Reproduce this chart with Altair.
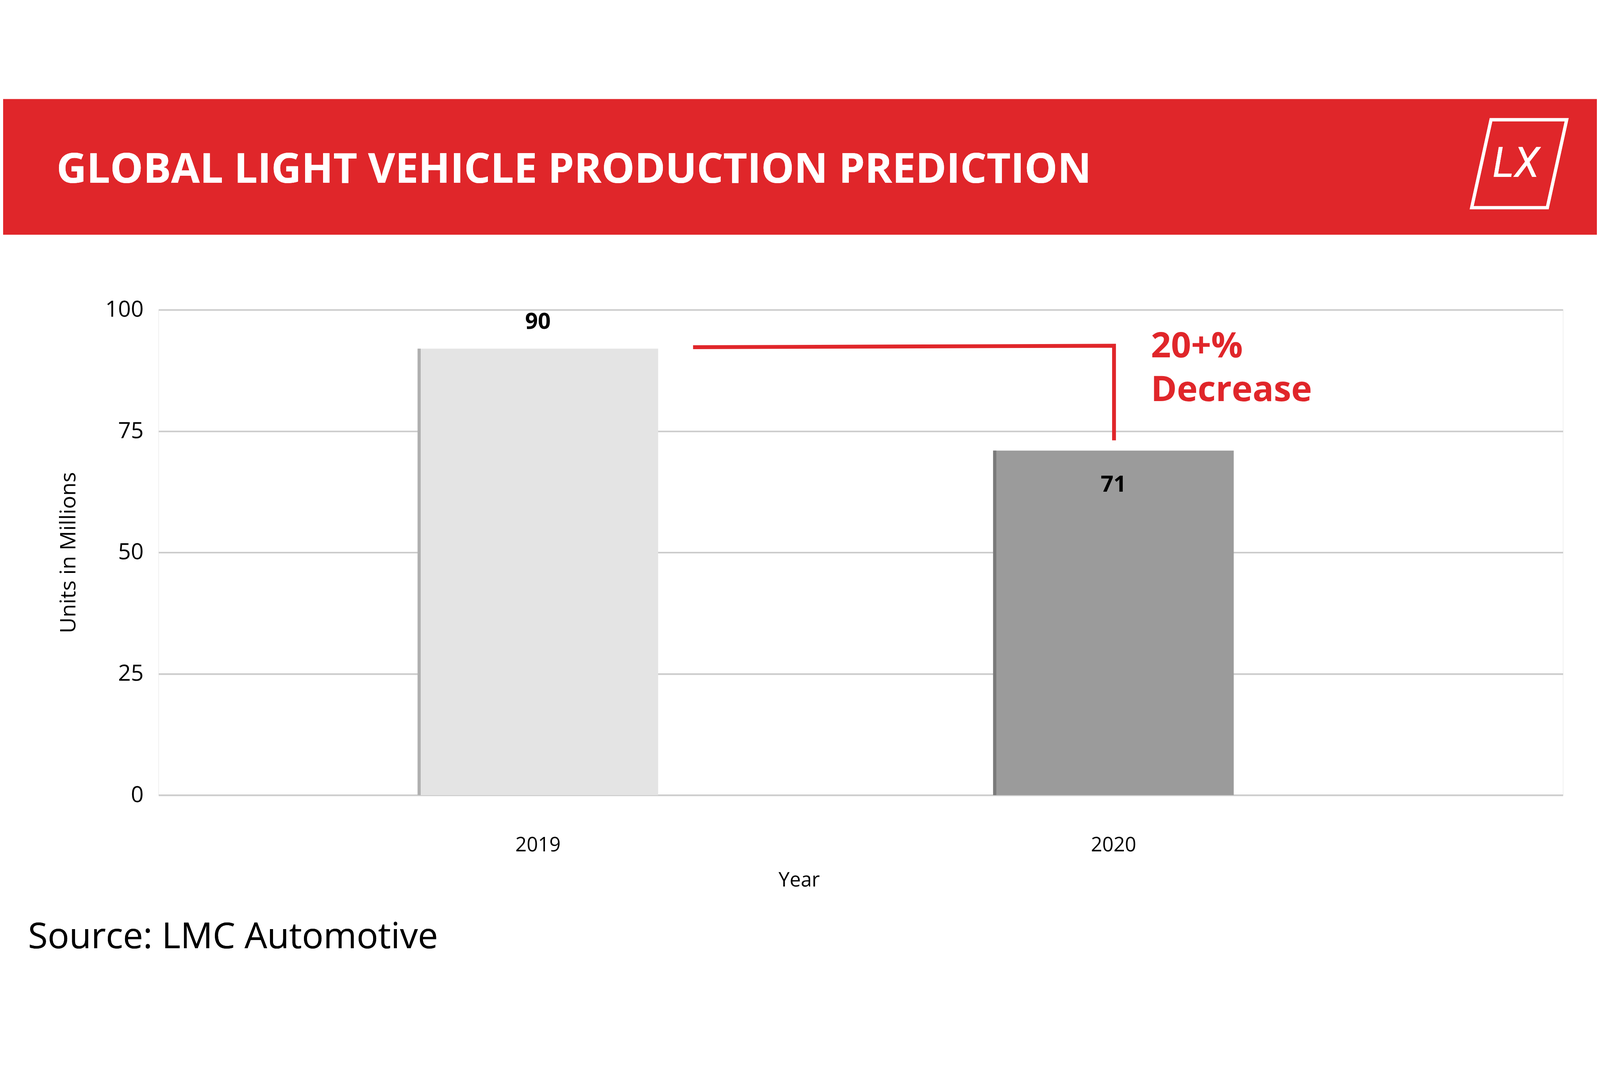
import pandas as pd
import altair as alt

years = [2019, 2020]
bar_values = [92, 71]
label_text = ["90", "71"]
bar_colors = ["#e4e4e4", "#9b9b9b"]
edge_colors = ["#b0b0b0", "#7a7a7a"]

RED = "#e0262a"
FONT = "Open Sans"
W, H = 4392, 1518
half = 0.209

df = pd.DataFrame({"year": years, "value": bar_values, "label": label_text,
                   "color": bar_colors, "edge": edge_colors})
df["x0"] = df["year"] - half
df["x1"] = df["year"] + half
df["e1"] = df["x0"] + 0.0055

xs = alt.Scale(domain=[2018.341, 2020.781], nice=False, zero=False)
ys = alt.Scale(domain=[0, 100], nice=False)

base = alt.Chart(df)

bars = base.mark_rect().encode(
    x=alt.X("x0:Q", scale=xs, title="Year",
            axis=alt.Axis(values=years, format="d", grid=False, domain=False, ticks=False,
                          labelFontSize=62, labelPadding=127, titleFontSize=62,
                          titleFontWeight="normal", titlePadding=48, titleX=2003,
                          labelColor="#000", titleColor="#000")),
    x2="x1:Q",
    y=alt.Y("value:Q", scale=ys, title="Units in Millions",
            axis=alt.Axis(values=[0, 25, 50, 75, 100], domain=False, ticks=False,
                          gridColor="#cccccc", gridWidth=5, labelFontSize=70,
                          labelPadding=47, titleFontSize=68, titleFontWeight="normal",
                          titlePadding=80, labelColor="#000", titleColor="#000")),
    y2=alt.datum(0),
    color=alt.Color("color:N", scale=None),
)
edges = base.mark_rect().encode(
    x=alt.X("x0:Q", scale=xs), x2="e1:Q", y=alt.Y("value:Q", scale=ys), y2=alt.datum(0),
    color=alt.Color("edge:N", scale=None),
)
lab_top = alt.Chart(df[df.year == 2019]).mark_text(
    fontSize=70, fontWeight="bold", font=FONT, dy=-83, color="#000"
).encode(x=alt.X("year:Q", scale=xs), y=alt.Y("value:Q", scale=ys), text="label:N")
lab_in = alt.Chart(df[df.year == 2020]).mark_text(
    fontSize=70, fontWeight="bold", font=FONT, dy=108, color="#000"
).encode(x=alt.X("year:Q", scale=xs), y=alt.Y("value:Q", scale=ys), text="label:N")

ann = pd.DataFrame({"x": [2019.273, 2020.001, 2020.001], "y": [92.3, 92.6, 73.5], "o": [0, 1, 2]})
arrow = alt.Chart(ann).mark_line(color=RED, strokeWidth=12, strokeCap="square").encode(
    x=alt.X("x:Q", scale=xs), y=alt.Y("y:Q", scale=ys), order="o:O")

ann_txt = pd.DataFrame({"x": [2020.065, 2020.065], "y": [92.4, 83.4], "t": ["20+%", "Decrease"]})
ann_label = alt.Chart(ann_txt).mark_text(
    align="left", baseline="middle", fontSize=110, fontWeight="bold", font=FONT, color=RED
).encode(x=alt.X("x:Q", scale=xs), y=alt.Y("y:Q", scale=ys), text="t:N")

header = alt.Chart(df).mark_rect(color=RED).encode(
    x=alt.value(-486), x2=alt.value(W + 106), y=alt.value(-659), y2=alt.value(-235))
title = alt.Chart(df).mark_text(
    align="left", baseline="middle", fontSize=130, fontWeight="bold", font=FONT, color="white"
).encode(x=alt.value(-319), y=alt.value(-437), text=alt.value("GLOBAL LIGHT VEHICLE PRODUCTION PREDICTION"))
logo_box = alt.Chart(df).mark_point(
    shape="M -0.64 -1 L 1.08 -1 L 0.64 1 L -1.08 1 Z", size=75625, filled=False,
    stroke="white", strokeWidth=10, opacity=1
).encode(x=alt.value(4255), y=alt.value(-457))
logo_txt = alt.Chart(df).mark_text(
    fontSize=130, fontStyle="italic", font="Roboto", color="white", baseline="middle"
).encode(x=alt.value(4245), y=alt.value(-455), text=alt.value("LX"))
source = alt.Chart(df).mark_text(
    align="left", baseline="middle", fontSize=112, font=FONT, color="#000"
).encode(x=alt.value(-408), y=alt.value(1963), text=alt.value("Source: LMC Automotive"))

chart = alt.layer(
    bars, edges, lab_top, lab_in, arrow, ann_label, header, title, logo_box, logo_txt, source
).properties(
    width=W, height=H, autosize=alt.AutoSizeParams(type="none"),
    padding={"left": 486, "top": 659, "right": 106, "bottom": 534},
).configure_view(strokeWidth=0).configure(font=FONT)

chart.save("out.html", embed_options={"renderer": "svg", "actions": False})
